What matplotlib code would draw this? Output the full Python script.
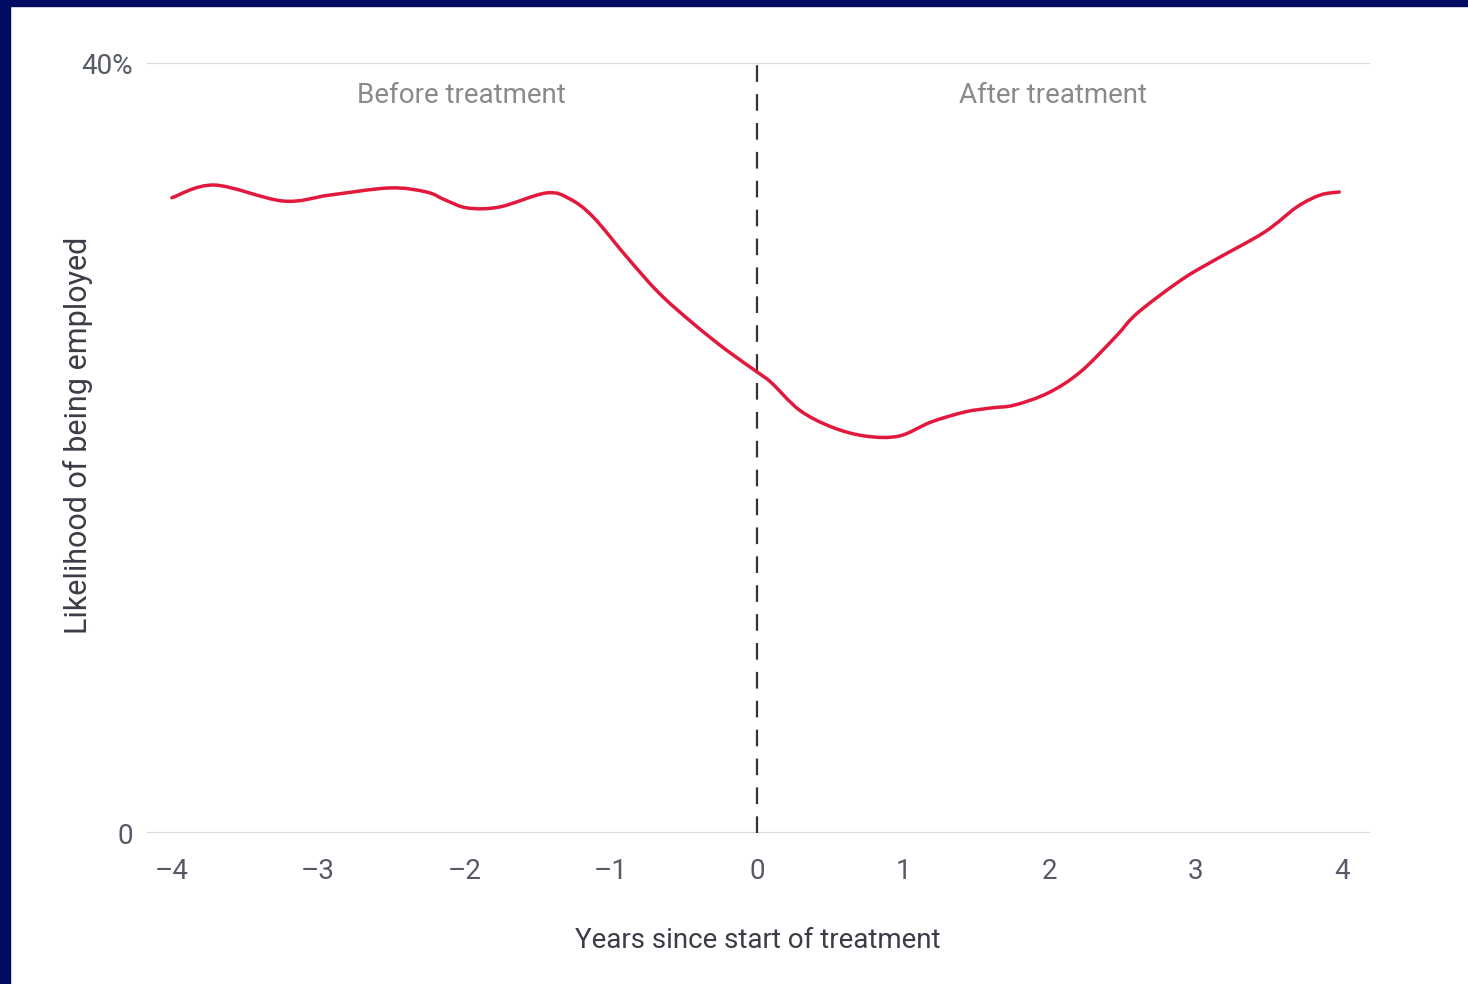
import matplotlib
matplotlib.use("Agg")
import matplotlib.pyplot as plt
from matplotlib import font_manager
from matplotlib.patches import Rectangle, PathPatch
from matplotlib.path import Path

# data (years since treatment, % employed)
years = [-4.0, -3.71, -3.24, -2.92, -2.51, -2.26, -2.13, -1.98, -1.76, -1.44,
         -1.28, -1.12, -0.89, -0.67, -0.44, -0.21, 0.01, 0.10, 0.29, 0.51,
         0.74, 0.97, 1.19, 1.42, 1.60, 1.76, 1.99, 2.21, 2.45, 2.60,
         2.90, 3.13, 3.47, 3.69, 3.85, 3.98]
employed = [33.0, 33.66, 32.83, 33.14, 33.51, 33.30, 32.88, 32.47, 32.52, 33.25,
            32.94, 32.0, 29.92, 28.05, 26.49, 25.09, 23.9, 23.38, 21.97, 21.09,
            20.62, 20.62, 21.35, 21.87, 22.08, 22.23, 22.86, 23.95, 25.77, 27.01,
            28.73, 29.77, 31.22, 32.52, 33.14, 33.30]
xticks = [-4, -3, -2, -1, 0, 1, 2, 3, 4]
xtick_labels = ['\u20134', '\u20133', '\u20132', '\u20131', '0', '1', '2', '3', '4']
yticks = [0, 40]
ytick_labels = ['0', '40%']

names = {f.name for f in font_manager.fontManager.ttflist}
if 'Liberation Sans Narrow' in names:
    plt.rcParams['font.family'] = ['Liberation Sans Narrow', 'DejaVu Sans']
    fs = 23
else:
    plt.rcParams['font.family'] = ['Roboto', 'DejaVu Sans']
    fs = 20

fig = plt.figure(figsize=(14.68, 9.84), dpi=100, facecolor='white')
ax = fig.add_axes([147 / 1468, 1 - 833 / 984, (1370 - 147) / 1468, (833 - 63) / 984])

# smooth curve through the read points (Catmull-Rom as cubic Bezier segments)
verts = [(years[0], employed[0])]
codes = [Path.MOVETO]
n = len(years)
for i in range(n - 1):
    p0 = (years[max(i - 1, 0)], employed[max(i - 1, 0)])
    p1 = (years[i], employed[i])
    p2 = (years[i + 1], employed[i + 1])
    p3 = (years[min(i + 2, n - 1)], employed[min(i + 2, n - 1)])
    c1 = (p1[0] + (p2[0] - p0[0]) / 6, p1[1] + (p2[1] - p0[1]) / 6)
    c2 = (p2[0] - (p3[0] - p1[0]) / 6, p2[1] - (p3[1] - p1[1]) / 6)
    verts += [c1, c2, p2]
    codes += [Path.CURVE4] * 3
ax.add_patch(PathPatch(Path(verts, codes), facecolor='none', edgecolor='#e2183d',
                       lw=2.5, capstyle='round', joinstyle='round', zorder=3))

ax.axvline(0, color='#333333', lw=1.6, dashes=(7.5, 5.5))

for y in yticks:
    ax.axhline(y, color='#d9d9d9', lw=1.6, zorder=0)

ax.set_xlim(-4.17, 4.19)
ax.set_ylim(0, 40)
ax.set_xticks(xticks)
ax.set_xticklabels(xtick_labels)
ax.set_yticks(yticks)
ax.set_yticklabels(ytick_labels)
ax.tick_params(length=0, labelsize=fs, labelcolor='#555a66')
ax.tick_params(axis='x', pad=18)
ax.tick_params(axis='y', pad=10)
for s in ax.spines.values():
    s.set_visible(False)

ax.text(-2.02, 38.3, 'Before treatment', ha='center', va='center', fontsize=fs, color='#8a8a8a')
ax.text(2.02, 38.3, 'After treatment', ha='center', va='center', fontsize=fs, color='#8a8a8a')

fig.text(78 / 1468, 1 - 435 / 984, 'Likelihood of being employed', rotation=90,
         ha='center', va='center', fontsize=fs + 2, color='#3c3c46')
fig.text(758 / 1468, 1 - 941 / 984, 'Years since start of treatment',
         ha='center', va='center', fontsize=fs, color='#3c3c46')

# navy frame on top and left edges
fig.patches.append(Rectangle((0, 1 - 6 / 984), 1, 6 / 984, transform=fig.transFigure,
                             color='#000b64', zorder=10))
fig.patches.append(Rectangle((0, 0), 10 / 1468, 1, transform=fig.transFigure,
                             color='#000b64', zorder=10))

fig.savefig('out.png', dpi=100, facecolor='white')
